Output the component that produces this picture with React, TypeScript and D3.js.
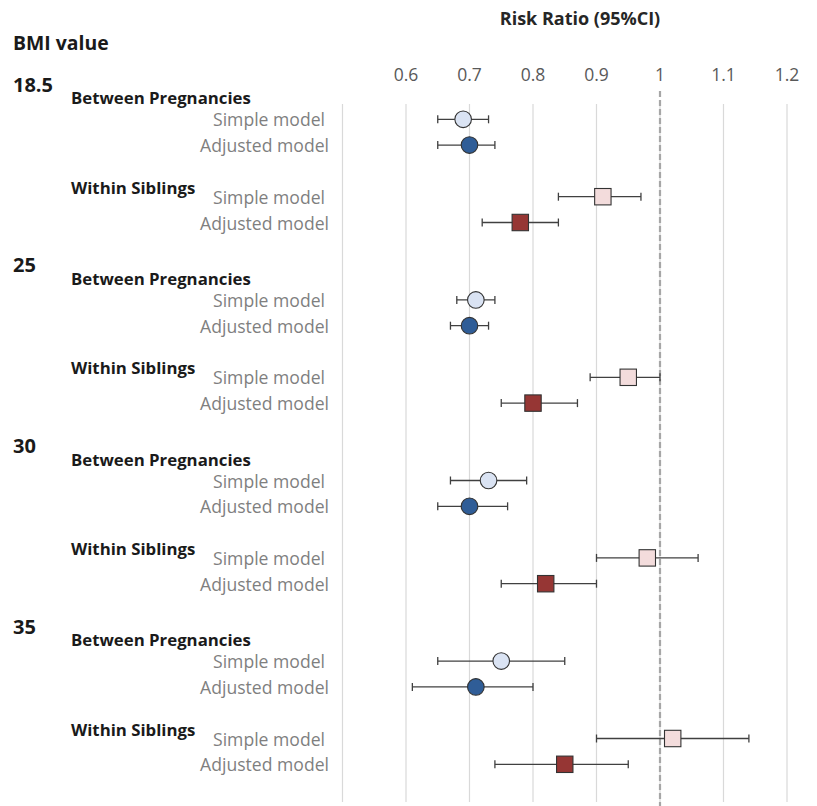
import React from 'react';
import * as d3 from 'd3';

// BMI cut-offs, one block each
const bmiLevels = ['18.5', '25', '30', '35'];

// Between pregnancies
const bpSimple = [0.69, 0.71, 0.73, 0.75];
const bpSimpleLo = [0.65, 0.68, 0.67, 0.65];
const bpSimpleHi = [0.73, 0.74, 0.79, 0.85];
const bpAdj = [0.70, 0.70, 0.70, 0.71];
const bpAdjLo = [0.65, 0.67, 0.65, 0.61];
const bpAdjHi = [0.74, 0.73, 0.76, 0.80];

// Within siblings
const wsSimple = [0.91, 0.95, 0.98, 1.02];
const wsSimpleLo = [0.84, 0.89, 0.90, 0.90];
const wsSimpleHi = [0.97, 1.00, 1.06, 1.14];
const wsAdj = [0.78, 0.80, 0.82, 0.85];
const wsAdjLo = [0.72, 0.75, 0.75, 0.74];
const wsAdjHi = [0.84, 0.87, 0.90, 0.95];

const gridTicks = [0.5, 0.6, 0.7, 0.8, 0.9, 1, 1.1, 1.2];
const labelTicks = [0.6, 0.7, 0.8, 0.9, 1, 1.1, 1.2];

const FONT = "'Open Sans', 'Noto Sans', sans-serif";

const W = 817, H = 806;

const App: React.FC = () => {
  const x = d3.scaleLinear().domain([0.5, 1.2]).range([342.5, 787]);
  const y = d3.scaleLinear().domain([0, 27]).range([93.5, 93.5 + 27 * 25.8]);

  type Pt = { est: number; lo: number; hi: number; row: number; shape: 'circle' | 'square'; fill: string; label: string };
  const pts: Pt[] = [];
  bmiLevels.forEach((_, i) => {
    const b = i * 7;
    pts.push({ est: bpSimple[i], lo: bpSimpleLo[i], hi: bpSimpleHi[i], row: b + 1, shape: 'circle', fill: '#dae3f3', label: 'Simple model' });
    pts.push({ est: bpAdj[i], lo: bpAdjLo[i], hi: bpAdjHi[i], row: b + 2, shape: 'circle', fill: '#2f5d97', label: 'Adjusted model' });
    pts.push({ est: wsSimple[i], lo: wsSimpleLo[i], hi: wsSimpleHi[i], row: b + 4, shape: 'square', fill: '#f3dcdc', label: 'Simple model' });
    pts.push({ est: wsAdj[i], lo: wsAdjLo[i], hi: wsAdjHi[i], row: b + 5, shape: 'square', fill: '#963634', label: 'Adjusted model' });
  });

  return (
    <svg width={W} height={H} style={{ position: 'absolute', left: 0, top: 0, background: '#fff' }} fontFamily={FONT}>
      {/* gridlines */}
      {gridTicks.map(t => (
        <line key={t} x1={x(t)} x2={x(t)} y1={104} y2={802} stroke="#d9d9d9" strokeWidth={1.2} />
      ))}
      <line x1={x(1)} x2={x(1)} y1={91} y2={806} stroke="#a6a6a6" strokeWidth={2.2} strokeDasharray="6,3" />

      {/* axis title + tick labels */}
      <text x={580} y={25} textAnchor="middle" fontWeight="bold" fontSize={18} fill="#262626">Risk Ratio (95%CI)</text>
      {labelTicks.map(t => (
        <text key={t} x={x(t)} y={81} textAnchor="middle" fontSize={17.5} fill="#595959">{String(t)}</text>
      ))}

      {/* left-hand labels */}
      <text x={13} y={50} fontWeight="bold" fontSize={19.4} fill="#1a1a1a">BMI value</text>
      {bmiLevels.map((b, i) => {
        const r = i * 7;
        return (
          <g key={b}>
            <text x={13} y={y(r + 1) - 27.5} fontWeight="bold" fontSize={20} fill="#1a1a1a">{b}</text>
            <text x={71} y={y(r + 1) - 15} fontWeight="bold" fontSize={16.8} fill="#1a1a1a">Between Pregnancies</text>
            <text x={71} y={y(r + 4) - 3} fontWeight="bold" fontSize={16.8} fill="#1a1a1a">Within Siblings</text>
          </g>
        );
      })}
      {pts.map((p, i) => (
        <text key={'l' + i} x={p.label === 'Simple model' ? 325 : 329} y={y(p.row) + 7} textAnchor="end" fontSize={17.6} fill="#7f7f7f">{p.label}</text>
      ))}

      {/* error bars + markers */}
      {pts.map((p, i) => {
        const cy = y(p.row);
        return (
          <g key={'p' + i}>
            <line x1={x(p.lo)} x2={x(p.hi)} y1={cy} y2={cy} stroke="#404040" strokeWidth={1.3} />
            <line x1={x(p.lo)} x2={x(p.lo)} y1={cy - 4} y2={cy + 4} stroke="#404040" strokeWidth={1.3} />
            <line x1={x(p.hi)} x2={x(p.hi)} y1={cy - 4} y2={cy + 4} stroke="#404040" strokeWidth={1.3} />
            {p.shape === 'circle'
              ? <circle cx={x(p.est)} cy={cy} r={8.3} fill={p.fill} stroke="#333" strokeWidth={1.1} />
              : <rect x={x(p.est) - 8.2} y={cy - 8.2} width={16.4} height={16.4} fill={p.fill} stroke="#333" strokeWidth={1.1} />}
          </g>
        );
      })}
    </svg>
  );
};

export default App;
